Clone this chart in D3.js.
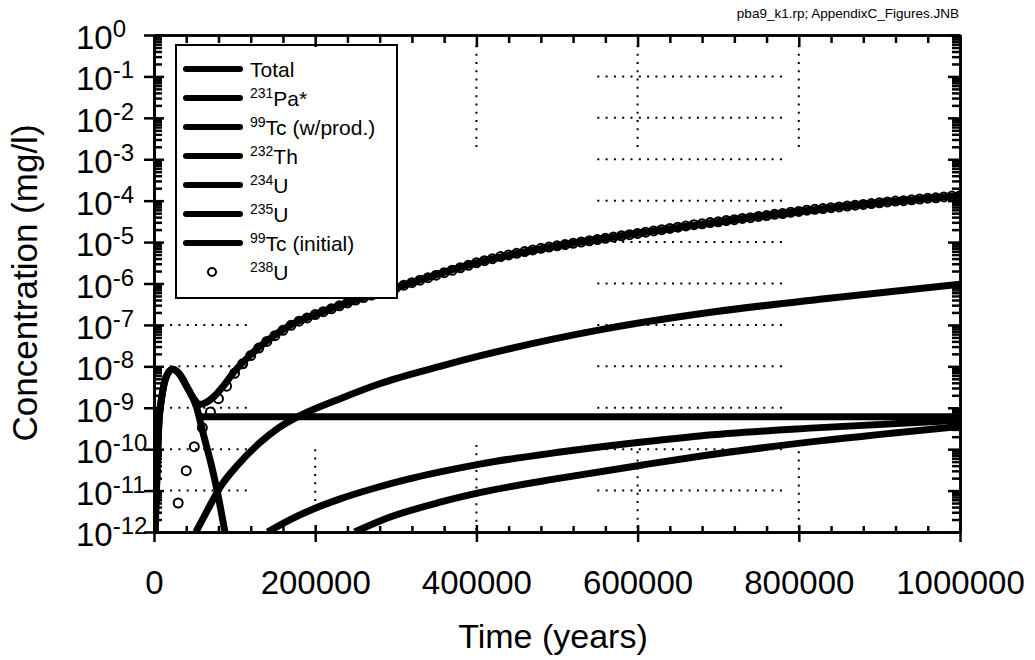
<!DOCTYPE html>
<html lang="en">
<head>
<meta charset="UTF-8">
<title>Concentration vs Time</title>
<script src="https://d3js.org/d3.v7.min.js"></script>
<style>
  body { margin: 0; background: #fff; }
  svg { display: block; font-family: Arial, "Liberation Sans", sans-serif; }
  .axis .domain, .axis .tick line { stroke: #000; stroke-width: 2.5; }
  .grid { stroke: #000; stroke-width: 2; stroke-dasharray: 2 6.3; fill: none; }
  .curve { fill: none; stroke: #000; stroke-width: 7; }
</style>
</head>
<body>
<div id="chart"></div>
<script>
// all concentrations, kept as log10(mg/l)
const total = [[1500,-12],[3000,-11],[6000,-9.4],[10000,-8.7],[15000,-8.26],[23000,-8.07],[30000,-8.15],
  [41000,-8.5],[50000,-8.8],[57000,-8.92],[65000,-8.87],[75000,-8.72],[85000,-8.5],[100000,-8.12],
  [120000,-7.72],[140000,-7.39],[170000,-7.0],[200000,-6.75],[250000,-6.40],[300000,-6.10],[400000,-5.50],
  [500000,-5.09],[600000,-4.79],[700000,-4.51],[800000,-4.26],[900000,-4.05],[1000000,-3.88]];
const pa231 = [[141000,-12],[169000,-11.7],[197000,-11.45],[231000,-11.2],[272000,-10.95],[314000,-10.73],
  [355000,-10.55],[404000,-10.36],[504000,-10.07],[600000,-9.84],[677000,-9.68],[826000,-9.48],[1000000,-9.3]];
const tc99Prod = [[55000,-9.22],[1000000,-9.22]];
const th232 = []; // below 1e-12 over the whole run, nothing shows
const u234 = [[52000,-12],[67000,-11.45],[82000,-10.92],[103000,-10.4],[131000,-9.85],[155000,-9.48],
  [180000,-9.2],[231000,-8.78],[280000,-8.42],[355000,-8.0],[404000,-7.75],[553000,-7.12],[693000,-6.69],
  [826000,-6.38],[1000000,-6.02]];
const u235 = [[249000,-12],[293000,-11.64],[355000,-11.28],[404000,-11.05],[504000,-10.7],[600000,-10.4],
  [677000,-10.17],[826000,-9.8],[1000000,-9.45]];
const tc99Init = [[1000,-12],[3000,-11],[6000,-9.4],[10000,-8.7],[15000,-8.26],[23000,-8.07],[30000,-8.15],
  [41000,-8.5],[53000,-9.0],[61000,-9.62],[72000,-10.45],[79000,-11.07],[88000,-12]];

// 238U markers, one every 10000 years
const u238Years = d3.range(30000, 1000001, 10000);
const u238 = [-11.30,-10.52,-9.94,-9.48,-9.10,-8.78,-8.48,-8.17,-7.94,-7.74,
  -7.56,-7.40,-7.26,-7.13,-7.01,-6.91,-6.83,-6.75,-6.68,-6.61,
  -6.54,-6.47,-6.40,-6.34,-6.28,-6.22,-6.16,-6.10,-6.04,-5.98,
  -5.92,-5.86,-5.80,-5.74,-5.68,-5.62,-5.56,-5.50,-5.45,-5.40,
  -5.35,-5.31,-5.27,-5.23,-5.19,-5.15,-5.12,-5.09,-5.06,-5.03,
  -5.00,-4.97,-4.94,-4.91,-4.88,-4.85,-4.82,-4.79,-4.76,-4.73,
  -4.70,-4.67,-4.64,-4.61,-4.58,-4.56,-4.53,-4.51,-4.48,-4.46,
  -4.43,-4.41,-4.38,-4.36,-4.33,-4.31,-4.28,-4.26,-4.23,-4.21,
  -4.19,-4.17,-4.15,-4.13,-4.11,-4.09,-4.07,-4.05,-4.03,-4.01,
  -4.00,-3.98,-3.96,-3.94,-3.93,-3.91,-3.89,-3.88];

const legendNames = [["", "Total"], ["231", "Pa*"], ["99", "Tc (w/prod.)"], ["232", "Th"],
  ["234", "U"], ["235", "U"], ["99", "Tc (initial)"], ["238", "U"]];

const xMajor = [0, 200000, 400000, 600000, 800000, 1000000];
const xMinor = d3.range(0, 1000001, 40000).filter(v => v % 200000 !== 0);
const yDecades = d3.range(0, -13, -1);

// leftover bits of the dotted grid in the scan
const gridRowsRight = d3.range(-1, -12, -1), gridSpanRight = [550000, 785000];
const gridRowsLeft = [-7, -8, -9, -10, -11], gridSpanLeft = [20000, 120000];
const gridCols = [[200000, -10, -11.3], [400000, -0.25, -2.85], [400000, -9.9, -12],
  [600000, -0.25, -2.85], [600000, -10.05, -12], [800000, -0.25, -2.85], [800000, -10.05, -12]];

const width = 1035, height = 660;
const mLeft = 154, mRight = 960, mTop = 35, mBottom = 532;

const svg = d3.select("#chart").append("svg")
    .attr("width", width)
    .attr("height", height);

const x = d3.scaleLinear().domain([0, 1000000]).range([mLeft, mRight]);
const y = d3.scaleLog().domain([1e-12, 1]).range([mBottom, mTop]);
const yl = v => y(Math.pow(10, v));

svg.append("defs").append("clipPath").attr("id", "plot")
  .append("rect").attr("x", mLeft).attr("y", mTop).attr("width", mRight - mLeft).attr("height", mBottom - mTop);

const plot = svg.append("g").attr("clip-path", "url(#plot)");

// grid
gridRowsRight.forEach(r => plot.append("line").attr("class", "grid")
  .attr("x1", x(gridSpanRight[0])).attr("x2", x(gridSpanRight[1])).attr("y1", yl(r)).attr("y2", yl(r)));
gridRowsLeft.forEach(r => plot.append("line").attr("class", "grid")
  .attr("x1", x(gridSpanLeft[0])).attr("x2", x(gridSpanLeft[1])).attr("y1", yl(r)).attr("y2", yl(r)));
gridCols.forEach(c => plot.append("line").attr("class", "grid")
  .attr("x1", x(c[0])).attr("x2", x(c[0])).attr("y1", yl(c[1])).attr("y2", yl(c[2])));

const line = d3.line()
    .x(d => x(d[0]))
    .y(d => yl(d[1]))
    .curve(d3.curveMonotoneX);

[pa231, tc99Prod, th232, u234, u235, tc99Init].forEach(s => {
  if (s.length) plot.append("path").attr("class", "curve").attr("d", line(s));
});
plot.append("path").attr("class", "curve").attr("stroke-width", 6).attr("d", line(total));

plot.selectAll("circle.u238")
  .data(u238Years.map((t, i) => [t, u238[i]]))
  .join("circle")
  .attr("class", "u238")
  .attr("cx", d => x(d[0]))
  .attr("cy", d => yl(d[1]))
  .attr("r", 4.5)
  .attr("fill", "none")
  .attr("stroke", "#000")
  .attr("stroke-width", 2);

// legend
const lg = svg.append("g");
lg.append("rect").attr("x", 176).attr("y", 45).attr("width", 221).attr("height", 253)
  .attr("fill", "#fff").attr("stroke", "#000").attr("stroke-width", 2);
legendNames.forEach((n, i) => {
  const ry = 69 + i * 29;
  if (i < 7) {
    lg.append("line").attr("x1", 186).attr("x2", 240).attr("y1", ry).attr("y2", ry)
      .attr("stroke", "#000").attr("stroke-width", 6).attr("stroke-linecap", "round");
  } else {
    lg.append("circle").attr("cx", 212).attr("cy", ry).attr("r", 4)
      .attr("fill", "none").attr("stroke", "#000").attr("stroke-width", 2);
  }
  const t = lg.append("text").attr("x", 250).attr("y", ry + 8).attr("font-size", 21);
  if (n[0]) {
    t.append("tspan").attr("font-size", 14).attr("dy", -8).text(n[0]);
    t.append("tspan").attr("dy", 8).text(n[1]);
  } else {
    t.text(n[1]);
  }
});

// axes
function addAxis(axis, tx, ty) {
  return svg.append("g").attr("class", "axis").attr("transform", `translate(${tx},${ty})`).call(axis);
}
const noLab = () => "";
const yMinor = [];
yDecades.slice(1).forEach(e => d3.range(2, 10).forEach(k => yMinor.push(k * Math.pow(10, e))));

addAxis(d3.axisBottom(x).tickValues(xMinor).tickSize(-6).tickSizeOuter(0).tickFormat(noLab), 0, mBottom);
addAxis(d3.axisBottom(x).tickValues(xMajor).tickSize(-7).tickSizeOuter(0).tickFormat(noLab), 0, mBottom);
const xb = addAxis(d3.axisBottom(x).tickValues(xMajor).tickSize(10).tickSizeOuter(0).tickFormat(d3.format("d")), 0, mBottom);
xb.selectAll("text").attr("y", 62).attr("dy", null).attr("font-size", 33)
  .attr("font-family", "Arial, 'Liberation Sans', sans-serif").attr("fill", "#000");

addAxis(d3.axisTop(x).tickValues(xMinor).tickSize(-8).tickSizeOuter(0).tickFormat(noLab), 0, mTop);
addAxis(d3.axisTop(x).tickValues(xMajor).tickSize(-12).tickSizeOuter(0).tickFormat(noLab), 0, mTop);

addAxis(d3.axisLeft(y).tickValues(yMinor).tickSize(-8).tickSizeOuter(0).tickFormat(noLab), mLeft, 0);
addAxis(d3.axisLeft(y).tickValues(yDecades.map(e => Math.pow(10, e))).tickSize(-10).tickSizeOuter(0).tickFormat(noLab), mLeft, 0);
addAxis(d3.axisLeft(y).tickValues(yDecades.map(e => Math.pow(10, e))).tickSize(10).tickSizeOuter(0).tickFormat(noLab), mLeft, 0);

addAxis(d3.axisRight(y).tickValues(yMinor).tickSize(-8).tickSizeOuter(0).tickFormat(noLab), mRight, 0);
addAxis(d3.axisRight(y).tickValues(yDecades.map(e => Math.pow(10, e))).tickSize(-12).tickSizeOuter(0).tickFormat(noLab), mRight, 0);

// y labels 10^n
const yLab = svg.append("g").selectAll("text").data(yDecades).join("text")
  .attr("x", 76)
  .attr("y", e => yl(e) + 14)
  .attr("font-size", 33);
yLab.append("tspan").text("10");
yLab.append("tspan").attr("font-size", 24).attr("dy", -12).text(e => e === 0 ? "0" : "-" + (-e));

// titles
svg.append("text").attr("x", 553).attr("y", 648).attr("text-anchor", "middle")
  .attr("font-size", 34).text("Time (years)");
svg.append("text").attr("transform", "translate(37,283) rotate(-90)").attr("text-anchor", "middle")
  .attr("font-size", 35).text("Concentration (mg/l)");
svg.append("text").attr("x", 959).attr("y", 18).attr("text-anchor", "end")
  .attr("font-size", 13.5).text("pba9_k1.rp; AppendixC_Figures.JNB");
</script>
</body>
</html>
